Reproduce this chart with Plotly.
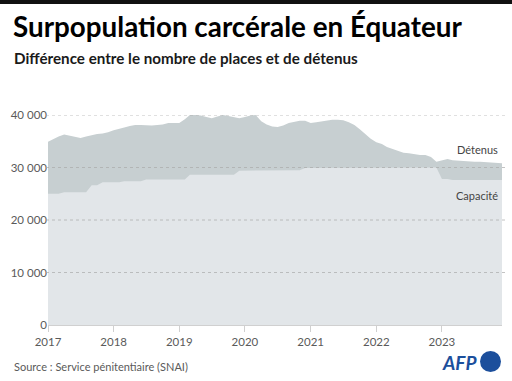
import pandas as pd
import plotly.graph_objects as go

# ---- data (thousands, monthly Jan 2017 - Dec 2023) ----
months = pd.date_range("2017-01-01", "2023-12-01", freq="MS")

detenus_k = [
    34.9, 35.5, 35.9, 36.3, 36.1, 35.8, 35.6, 35.9, 36.2, 36.4, 36.5, 36.7,
    37.1, 37.3, 37.6, 37.9, 38.1, 38.1, 38.0, 38.0, 38.1, 38.2, 38.5, 38.5,
    38.5, 39.2, 40.0, 40.0, 39.9, 39.6, 39.4, 39.7, 40.0, 39.8, 39.6, 39.4,
    39.6, 39.9, 40.0, 38.8, 38.2, 37.8, 37.7, 38.0, 38.5, 38.7, 38.9, 38.9,
    38.5, 38.6, 38.8, 39.0, 39.1, 39.1, 39.0, 38.6, 38.1, 37.3, 36.3, 35.5,
    34.8, 34.5, 33.9, 33.5, 33.1, 32.8, 32.7, 32.5, 32.4, 32.4, 32.0, 31.1,
    31.3, 31.6, 31.4, 31.3, 31.2, 31.2, 31.1, 31.1, 31.0, 31.0, 30.9, 30.8,
]
capacite_k = [
    25.0, 25.0, 25.0, 25.3, 25.3, 25.3, 25.3, 25.3, 26.6, 26.6, 27.2, 27.2,
    27.2, 27.2, 27.4, 27.4, 27.4, 27.4, 27.7, 27.7, 27.7, 27.7, 27.7, 27.7,
    27.7, 27.7, 28.6, 28.6, 28.6, 28.6, 28.6, 28.6, 28.6, 28.6, 28.6, 29.4,
    29.4, 29.4, 29.4, 29.4, 29.4, 29.4, 29.4, 29.4, 29.5, 29.5, 29.5, 29.9,
    29.9, 29.9, 29.9, 30.0, 30.0, 30.0, 30.0, 30.0, 30.0, 30.0, 30.0, 30.0,
    30.0, 30.0, 30.0, 30.0, 30.0, 30.0, 30.0, 30.0, 30.0, 30.0, 30.0, 30.0,
    27.8, 27.8, 27.6, 27.6, 27.6, 27.6, 27.6, 27.6, 27.6, 27.6, 27.6, 27.6,
]
detenus = [v * 1000 for v in detenus_k]
capacite = [v * 1000 for v in capacite_k]

y_ticks = [0, 10000, 20000, 30000, 40000]
title = "Surpopulation carcérale en Équateur"
subtitle = "Différence entre le nombre de places et de détenus"
source = "Source : Service pénitentiaire (SNAI)"
series_labels = ["Détenus", "Capacité"]

# ---- layout geometry (pixels) ----
W, H = 512, 381
L, R, T, B = 48, 10, 115, 56
PW, PH = W - L - R, H - T - B

def px(x):
    return (x - L) / PW

def py(y):
    return (H - B - y) / PH

FONT = "Lato"
GREY = "#5a5a5a"

fig = go.Figure()
fig.add_trace(go.Scatter(
    x=months, y=detenus, mode="lines", line=dict(width=0, shape="linear"),
    fill="tozeroy", fillcolor="#c7cfd1", hoverinfo="skip", showlegend=False))
fig.add_trace(go.Scatter(
    x=months, y=capacite, mode="lines", line=dict(width=0, shape="linear"),
    fill="tozeroy", fillcolor="#e2e6e9", hoverinfo="skip", showlegend=False))

shapes = []
# top black bar
shapes.append(dict(type="rect", xref="paper", yref="paper",
                   x0=px(0), x1=px(W), y0=py(0), y1=py(4),
                   fillcolor="#111111", line=dict(width=0), layer="above"))
# dotted gridlines above the areas
for v in y_ticks[1:]:
    shapes.append(dict(type="line", xref="paper", yref="y",
                       x0=px(46), x1=px(506), y0=v, y1=v,
                       line=dict(color="rgba(170,170,170,0.7)", width=1, dash="dot"),
                       layer="above"))
# AFP circle
shapes.append(dict(type="circle", xref="paper", yref="paper",
                   x0=px(480), x1=px(501), y0=py(372), y1=py(351),
                   fillcolor="#1c4f9c", line=dict(width=0), layer="above"))

annotations = [
    dict(text=f"<b>{title}</b>", x=px(11), y=py(27), xref="paper", yref="paper",
         xanchor="left", yanchor="middle", showarrow=False,
         font=dict(family=FONT, size=27.8, color="#000000")),
    dict(text=f"<b>{subtitle}</b>", x=px(12), y=py(58), xref="paper", yref="paper",
         xanchor="left", yanchor="middle", showarrow=False,
         font=dict(family=FONT, size=15.2, color="#1a1a1a")),
    dict(text=series_labels[0], x=px(500), y=py(149), xref="paper", yref="paper",
         xanchor="right", yanchor="middle", showarrow=False,
         font=dict(family=FONT, size=11, color="#444444")),
    dict(text=series_labels[1], x=px(500), y=py(195), xref="paper", yref="paper",
         xanchor="right", yanchor="middle", showarrow=False,
         font=dict(family=FONT, size=11, color="#444444")),
    dict(text=source, x=px(12), y=py(366), xref="paper", yref="paper",
         xanchor="left", yanchor="middle", showarrow=False,
         font=dict(family=FONT, size=11, color=GREY)),
    dict(text="<b><i>AFP</i></b>", x=px(479), y=py(362), xref="paper", yref="paper",
         xanchor="right", yanchor="middle", showarrow=False,
         font=dict(family=FONT, size=19, color="#1c4f9c")),
]

fig.update_layout(
    width=W, height=H, margin=dict(l=L, r=R, t=T, b=B, pad=0, autoexpand=False),
    paper_bgcolor="white", plot_bgcolor="white",
    separators=", ",
    shapes=shapes, annotations=annotations,
    xaxis=dict(range=[months[0], months[-1]], tickformat="%Y", dtick="M12",
               tick0="2017-01-01", showgrid=False, zeroline=False, automargin=False,
               showline=True, linecolor="#d0d0d0", linewidth=1,
               ticks="outside", ticklen=6, tickcolor="#d0d0d0",
               tickfont=dict(family=FONT, size=11.5, color=GREY)),
    yaxis=dict(range=[0, 40000], tickvals=y_ticks, tickformat=",d", automargin=False,
               showgrid=False, zeroline=False, showline=False,
               ticks="", tickfont=dict(family=FONT, size=11.5, color=GREY)),
)

fig.write_html("out.html", config={"displayModeBar": False},
               post_script="document.body.style.margin='0';document.body.style.overflow='hidden';")
